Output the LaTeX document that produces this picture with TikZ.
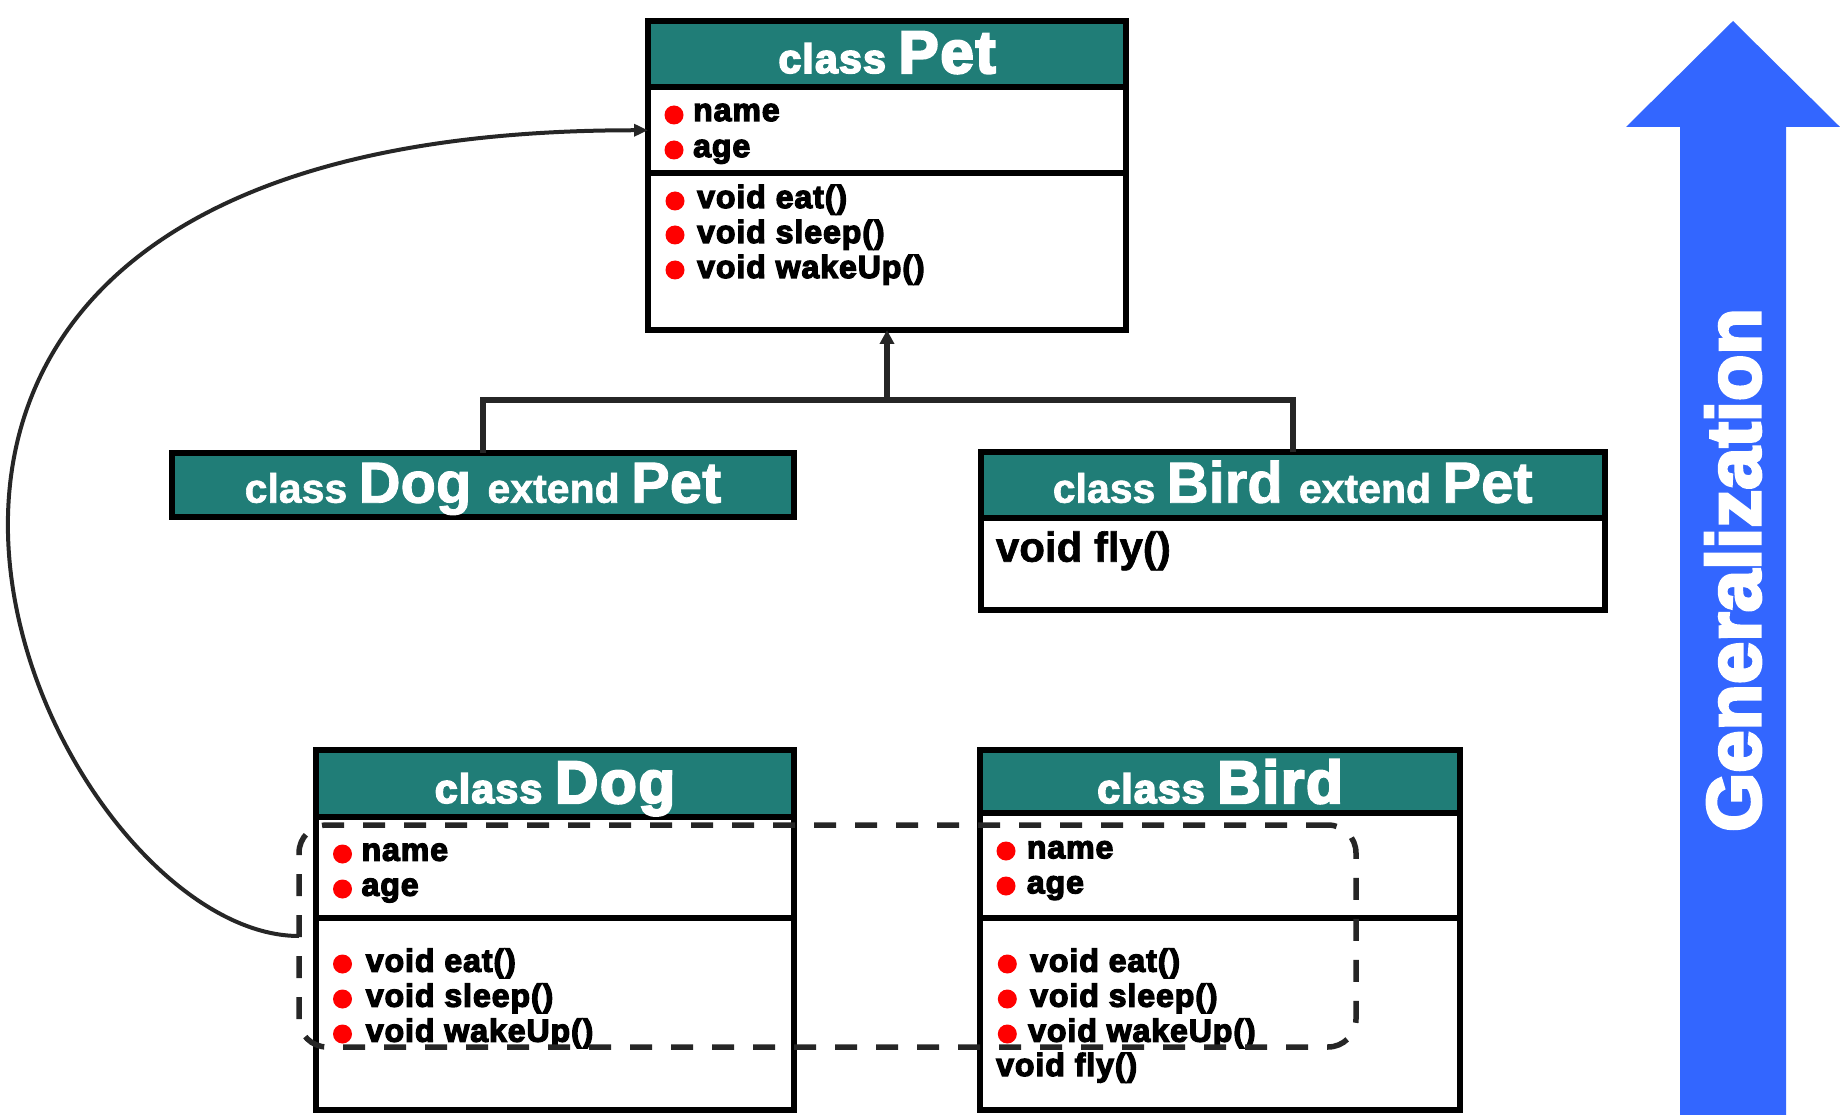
\documentclass[tikz,border=0pt]{standalone}
\usepackage{fontspec}
\setmainfont{Liberation Sans}
\newfontfamily\heavy{Liberation Sans}[BoldFeatures={FakeBold=4}]
\newfontfamily\heavysp{Liberation Sans}[BoldFeatures={FakeBold=4,LetterSpace=3}]
\newfontfamily\medheavy{Liberation Sans}[BoldFeatures={FakeBold=1.5}]
\usetikzlibrary{arrows.meta}
\definecolor{teal1}{RGB}{32,125,119}
\definecolor{conncol}{RGB}{38,38,38}
\definecolor{blue1}{RGB}{51,102,255}
\newcommand\hsz[1]{\fontsize{#1}{#1}\selectfont}
\tikzset{
  cell/.style={draw=black, line width=6pt, rectangle, inner sep=0pt, outer sep=0pt},
  hdr/.style={cell, fill=teal1},
  body/.style={cell, fill=white},
  title/.style={anchor=base, inner sep=0pt, text=white},
  item/.style={anchor=base west, inner sep=0pt, font=\heavysp\bfseries\hsz{32}},
  dot/.style={circle, fill=red, draw=none, minimum size=19pt, inner sep=0pt},
  conn/.style={draw=conncol, line width=5.5pt},
  tip/.style={-{Triangle[length=14pt,width=14pt]}},
}
\begin{document}
\begin{tikzpicture}[x=1pt,y=-1pt]
\useasboundingbox (0,0) rectangle (1840,1115);

% ---------- class Pet ----------
\node[hdr, minimum width=478pt, minimum height=66.5pt] (pethdr) at (887,54.25) {};
\node[body, minimum width=478pt, minimum height=85.5pt] (petattr) at (887,130.25) {};
\node[body, minimum width=478pt, minimum height=157pt] (petmeth) at (887,251.5) {};
\node[title] (pettitle) at (887,73) {\heavysp\bfseries\hsz{41}class \hsz{60}Pet};
\node[dot] (pb1) at (674,115) {};
\node[dot] (pb2) at (674,150) {};
\node[dot] (pb3) at (675,201) {};
\node[dot] (pb4) at (675,235) {};
\node[dot] (pb5) at (675,270) {};
\node[item] (pt1) at (693,121) {name};
\node[item] (pt2) at (693,157) {age};
\node[item] (pt3) at (697,208) {void eat()};
\node[item] (pt4) at (697,243) {void sleep()};
\node[item] (pt5) at (697,278) {void wakeUp()};

% ---------- class Dog extend Pet ----------
\node[hdr, minimum width=622pt, minimum height=64pt] (dogext) at (483,485) {};
\node[title] (dogexttitle) at (483,502.7) {\medheavy\bfseries\hsz{41}class \hsz{58}Dog \hsz{41}extend \hsz{58}Pet};

% ---------- class Bird extend Pet ----------
\node[hdr, minimum width=624.5pt, minimum height=66pt] (birdext) at (1292.75,485) {};
\node[body, minimum width=624.5pt, minimum height=92pt] (birdextbody) at (1292.75,564) {};
\node[title] (birdexttitle) at (1292.75,502.7) {\medheavy\bfseries\hsz{41}class \hsz{58}Bird \hsz{41}extend \hsz{58}Pet};
\node[anchor=base west, inner sep=0pt, font=\medheavy\bfseries\hsz{42}] (birdextfly) at (995.7,561.7) {void fly()};

% ---------- class Dog ----------
\node[hdr, minimum width=478pt, minimum height=67pt] (doghdr) at (555,783.5) {};
\node[body, minimum width=478pt, minimum height=101pt] (dogattr) at (555,867.5) {};
\node[body, minimum width=478pt, minimum height=192pt] (dogmeth) at (555,1014) {};
\node[title] (dogtitle) at (555,803) {\heavysp\bfseries\hsz{41}class \hsz{60}Dog};
\node[dot] (db1) at (342.5,854) {};
\node[dot] (db2) at (342.5,889) {};
\node[dot] (db3) at (342.5,964) {};
\node[dot] (db4) at (342.5,999) {};
\node[dot] (db5) at (342.5,1034) {};
\node[item] (dt1) at (361.4,860.7) {name};
\node[item] (dt2) at (361.4,895.7) {age};
\node[item] (dt3) at (365.7,971.7) {void eat()};
\node[item] (dt4) at (365.7,1006.7) {void sleep()};
\node[item] (dt5) at (365.7,1041.7) {void wakeUp()};

% ---------- class Bird ----------
\node[hdr, minimum width=480pt, minimum height=63pt] (birdhdr) at (1220,781.5) {};
\node[body, minimum width=480pt, minimum height=105pt] (birdattr) at (1220,865.5) {};
\node[body, minimum width=480pt, minimum height=192pt] (birdmeth) at (1220,1014) {};
\node[title] (birdtitle) at (1220,803) {\heavysp\bfseries\hsz{41}class \hsz{60}Bird};
\node[dot] (bb1) at (1006,851) {};
\node[dot] (bb2) at (1006,886) {};
\node[dot] (bb3) at (1007.3,964) {};
\node[dot] (bb4) at (1007.3,999) {};
\node[dot] (bb5) at (1007.3,1034) {};
\node[item] (bt1) at (1026.7,858.3) {name};
\node[item] (bt2) at (1026.7,893.3) {age};
\node[item] (bt3) at (1030,971.7) {void eat()};
\node[item] (bt4) at (1030,1006.7) {void sleep()};
\node[item] (bt5) at (1028,1041.7) {void wakeUp()};
\node[item] (bt6) at (996,1076) {void fly()};

% ---------- dashed group ----------
\node[draw=conncol, line width=5.5pt, dash pattern=on 22pt off 19pt, rounded corners=28pt,
      minimum width=1057pt, minimum height=222pt, inner sep=0pt, outer sep=0pt] (group) at (827.5,936) {};

% ---------- connectors ----------
\coordinate (j) at (887,400);
\draw[conn] (dogext.north) |- (j) -| (birdext.north);
\draw[conn, tip] (j) -- (petmeth.south);
\draw[conn, line width=4pt, -{Triangle[length=14pt,width=12pt]}]
  (group.west) .. controls (40,936) and (-330,130) .. (petattr.west);

% ---------- Generalization arrow ----------
\fill[blue1] (1680,1115) -- (1680,127) -- (1626,127) -- (1733,21) -- (1840,127) -- (1786,127) -- (1786,1115) -- cycle;
\node[rotate=90, text=white, inner sep=0pt, font=\heavy\bfseries\hsz{76}] (gen) at (1733,570) {Generalization};
\end{tikzpicture}
\end{document}
